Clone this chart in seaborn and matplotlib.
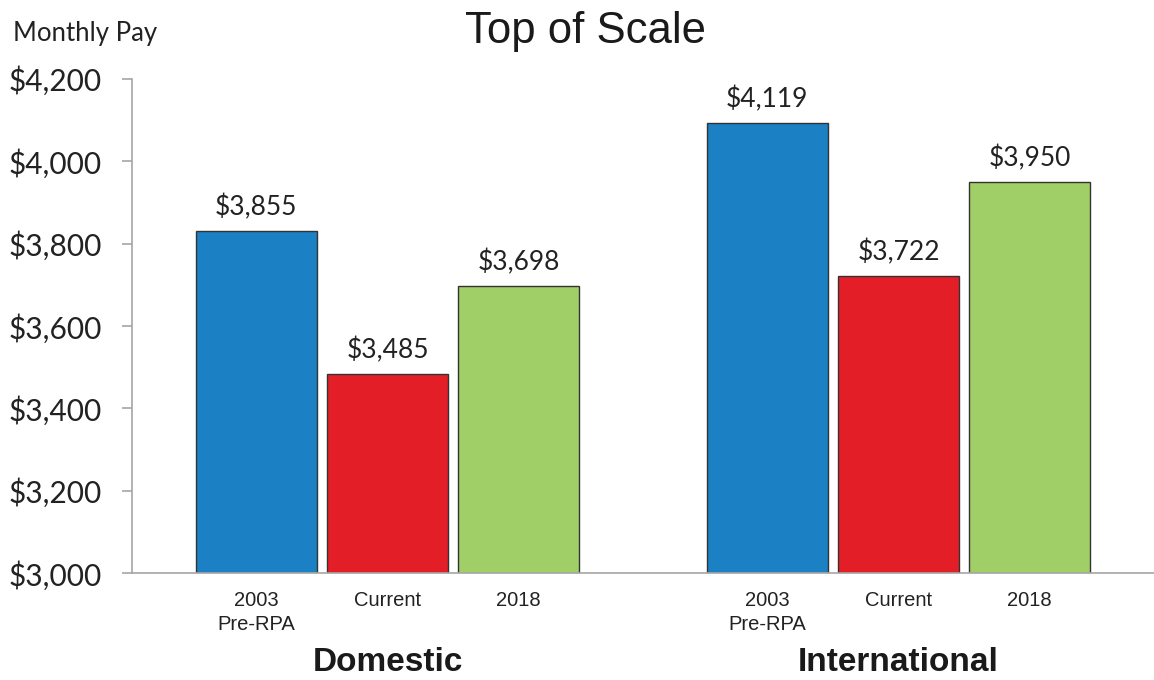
import matplotlib
matplotlib.use("Agg")
import matplotlib.pyplot as plt
import seaborn as sns
import pandas as pd

# ---- data ----
groups = ["Domestic", "International"]
categories = ["2003\nPre-RPA", "Current", "2018"]
domestic_values = [3831, 3484, 3697]
international_values = [4093, 3722, 3950]
domestic_labels = ["$3,855", "$3,485", "$3,698"]
international_labels = ["$4,119", "$3,722", "$3,950"]
yticks = [3000, 3200, 3400, 3600, 3800, 4000, 4200]
ytick_labels = ["$3,000", "$3,200", "$3,400", "$3,600", "$3,800", "$4,000", "$4,200"]
colors = ["#1b80c4", "#e31e26", "#a1cf67"]

df = pd.DataFrame({
    "group": [g for g in groups for _ in categories],
    "category": categories * 2,
    "value": domestic_values + international_values,
})

sns.set_theme(style="white")
plt.rcParams["font.family"] = ["Liberation Sans", "DejaVu Sans"]

fig = plt.figure(figsize=(11.54, 6.8), dpi=100)
ax = fig.add_axes([0.1144, 0.157, 0.8856, 0.727])

sns.barplot(data=df, x="group", y="value", hue="category", order=groups,
            hue_order=categories, palette=colors, width=0.77, gap=0.08,
            edgecolor="#333333", linewidth=1.0, legend=False, ax=ax,
            saturation=1)

ax.set_ylim(3000, 4200)
ax.set_xlim(-0.5, 1.5)

# bar centres from the drawn patches
bars = [p for p in ax.patches if p.get_width() > 0]
bars = sorted(bars, key=lambda p: p.get_x())
centers = [p.get_x() + p.get_width() / 2 for p in bars]
heights = [p.get_height() for p in bars]
for c, h, lab in zip(centers, heights, domestic_labels + international_labels):
    ax.annotate(lab, (c, h), xytext=(0, 7.5), textcoords="offset points",
                ha="center", va="bottom", fontsize=19, family="Lato",
                color="#222222")

ax.set_xticks(centers)
ax.set_xticklabels(categories * 2, fontsize=14.5, color="#222222",
                   linespacing=1.3)
ax.tick_params(axis="x", which="major", length=0, pad=13)
ax.set_xticks([-0.5, 0.5], minor=True)
ax.tick_params(axis="x", which="minor", length=8, width=1.2, color="#a6a6a6",
               direction="out")

ax.set_yticks(yticks)
ax.set_yticklabels(ytick_labels, fontsize=21.5, family="Lato", color="#222222")
ax.tick_params(axis="y", length=7.5, width=1.2, color="#a6a6a6", pad=14,
               direction="out", left=True)
ax.set_xlabel("")
ax.set_ylabel("")

for s in ["top", "right"]:
    ax.spines[s].set_visible(False)
for s in ["left", "bottom"]:
    ax.spines[s].set_color("#a6a6a6")
    ax.spines[s].set_linewidth(1.2)

# group labels
for i, g in enumerate(groups):
    ax.text(i, -0.181, g, transform=ax.get_xaxis_transform(), ha="center",
            va="center", fontsize=24, fontweight="bold", color="#1a1a1a")

fig.text(585 / 1154, 1 - 31 / 680, "Top of Scale", ha="center", va="center",
         fontsize=31.5, color="#1a1a1a")
fig.text(13 / 1154, 1 - 34 / 680, "Monthly Pay", ha="left", va="center",
         fontsize=18.5, family="Lato", color="#222222")

fig.savefig("out.png", dpi=100)
